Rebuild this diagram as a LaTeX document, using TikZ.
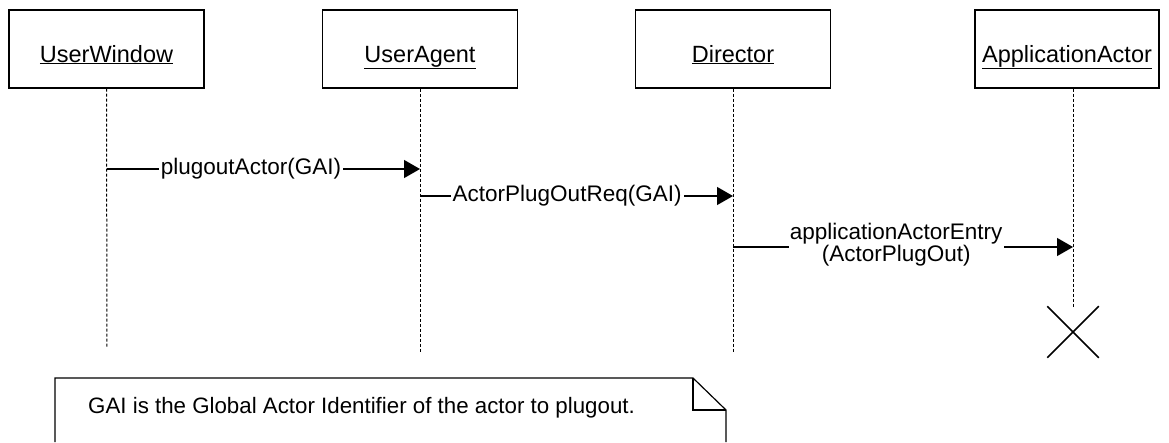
\documentclass[tikz,border=0pt]{standalone}
\usepackage{fontspec}
\setmainfont{Liberation Sans}
\usetikzlibrary{arrows.meta,shapes.misc}
\tikzset{
  objbox/.style={draw, line width=1.2pt, minimum width=195pt, minimum height=78pt, inner sep=0pt, text height=28pt, text depth=2pt, font=\fontsize{23.5}{26}\selectfont},
  lifeline/.style={line width=1pt, dash pattern=on 3pt off 2pt},
  msg/.style={line width=1.2pt, -{Triangle[length=16pt,width=18pt]}},
  msglabel/.style={fill=white, inner sep=2pt, font=\fontsize{22.5}{22}\selectfont, align=center}
}

\begin{document}
\begin{tikzpicture}[x=1pt,y=-1pt]
\useasboundingbox (0,0) rectangle (1169,442);
% objects
\node[objbox] (uw) at (106.5,49) {\underline{UserWindow}};
\node[objbox] (ua) at (420,49) {\underline{UserAgent}};
\node[objbox] (dir) at (733,49) {\underline{Director}};
\node[objbox, minimum width=184pt] (aa) at (1067,49) {\underline{ApplicationActor}};
% lifelines
\coordinate (uwend) at (107,348);
\coordinate (uaend) at (420,352);
\coordinate (dirend) at (733,352);
\coordinate (aaend) at (1073,307);
\draw[lifeline] (uw.south) -- (uwend);
\draw[lifeline] (ua.south) -- (uaend);
\draw[lifeline] (dir.south) -- (dirend);
\draw[lifeline] (aa.south -| aaend) -- (aaend);
% messages
\coordinate (m1s) at (107,169);
\coordinate (m1e) at (420,169);
\coordinate (m2s) at (420,196);
\coordinate (m2e) at (733,196);
\coordinate (m3s) at (733,247);
\coordinate (m3e) at (1073,247);
\draw[msg] (m1s) -- (m1e) node[msglabel, pos=0.46] (l1) {plugoutActor(GAI)};
\draw[msg] (m2s) -- (m2e) node[msglabel, pos=0.47] (l2) {ActorPlugOutReq(GAI)};
\draw[msg] (m3s) -- (m3e) node[msglabel, pos=0.48, inner sep=1pt, yshift=2pt] (l3) {applicationActorEntry\\(ActorPlugOut)};
% destruction
\node[cross out, draw, line width=1.5pt, minimum size=50pt, inner sep=0pt] (kill) at (1073,332) {};
% note
\draw[line width=1.2pt] (55,442) -- (55,378) -- (693,378) -- (726,410) -- (726,442);
\draw[line width=1.2pt] (693,378) -- (693,410) -- (726,410);
\node[anchor=base west, inner sep=0pt, font=\fontsize{22.3}{26}\selectfont] (note) at (88,413) {GAI is the Global Actor Identifier of the actor to plugout.};
\end{tikzpicture}
\end{document}
